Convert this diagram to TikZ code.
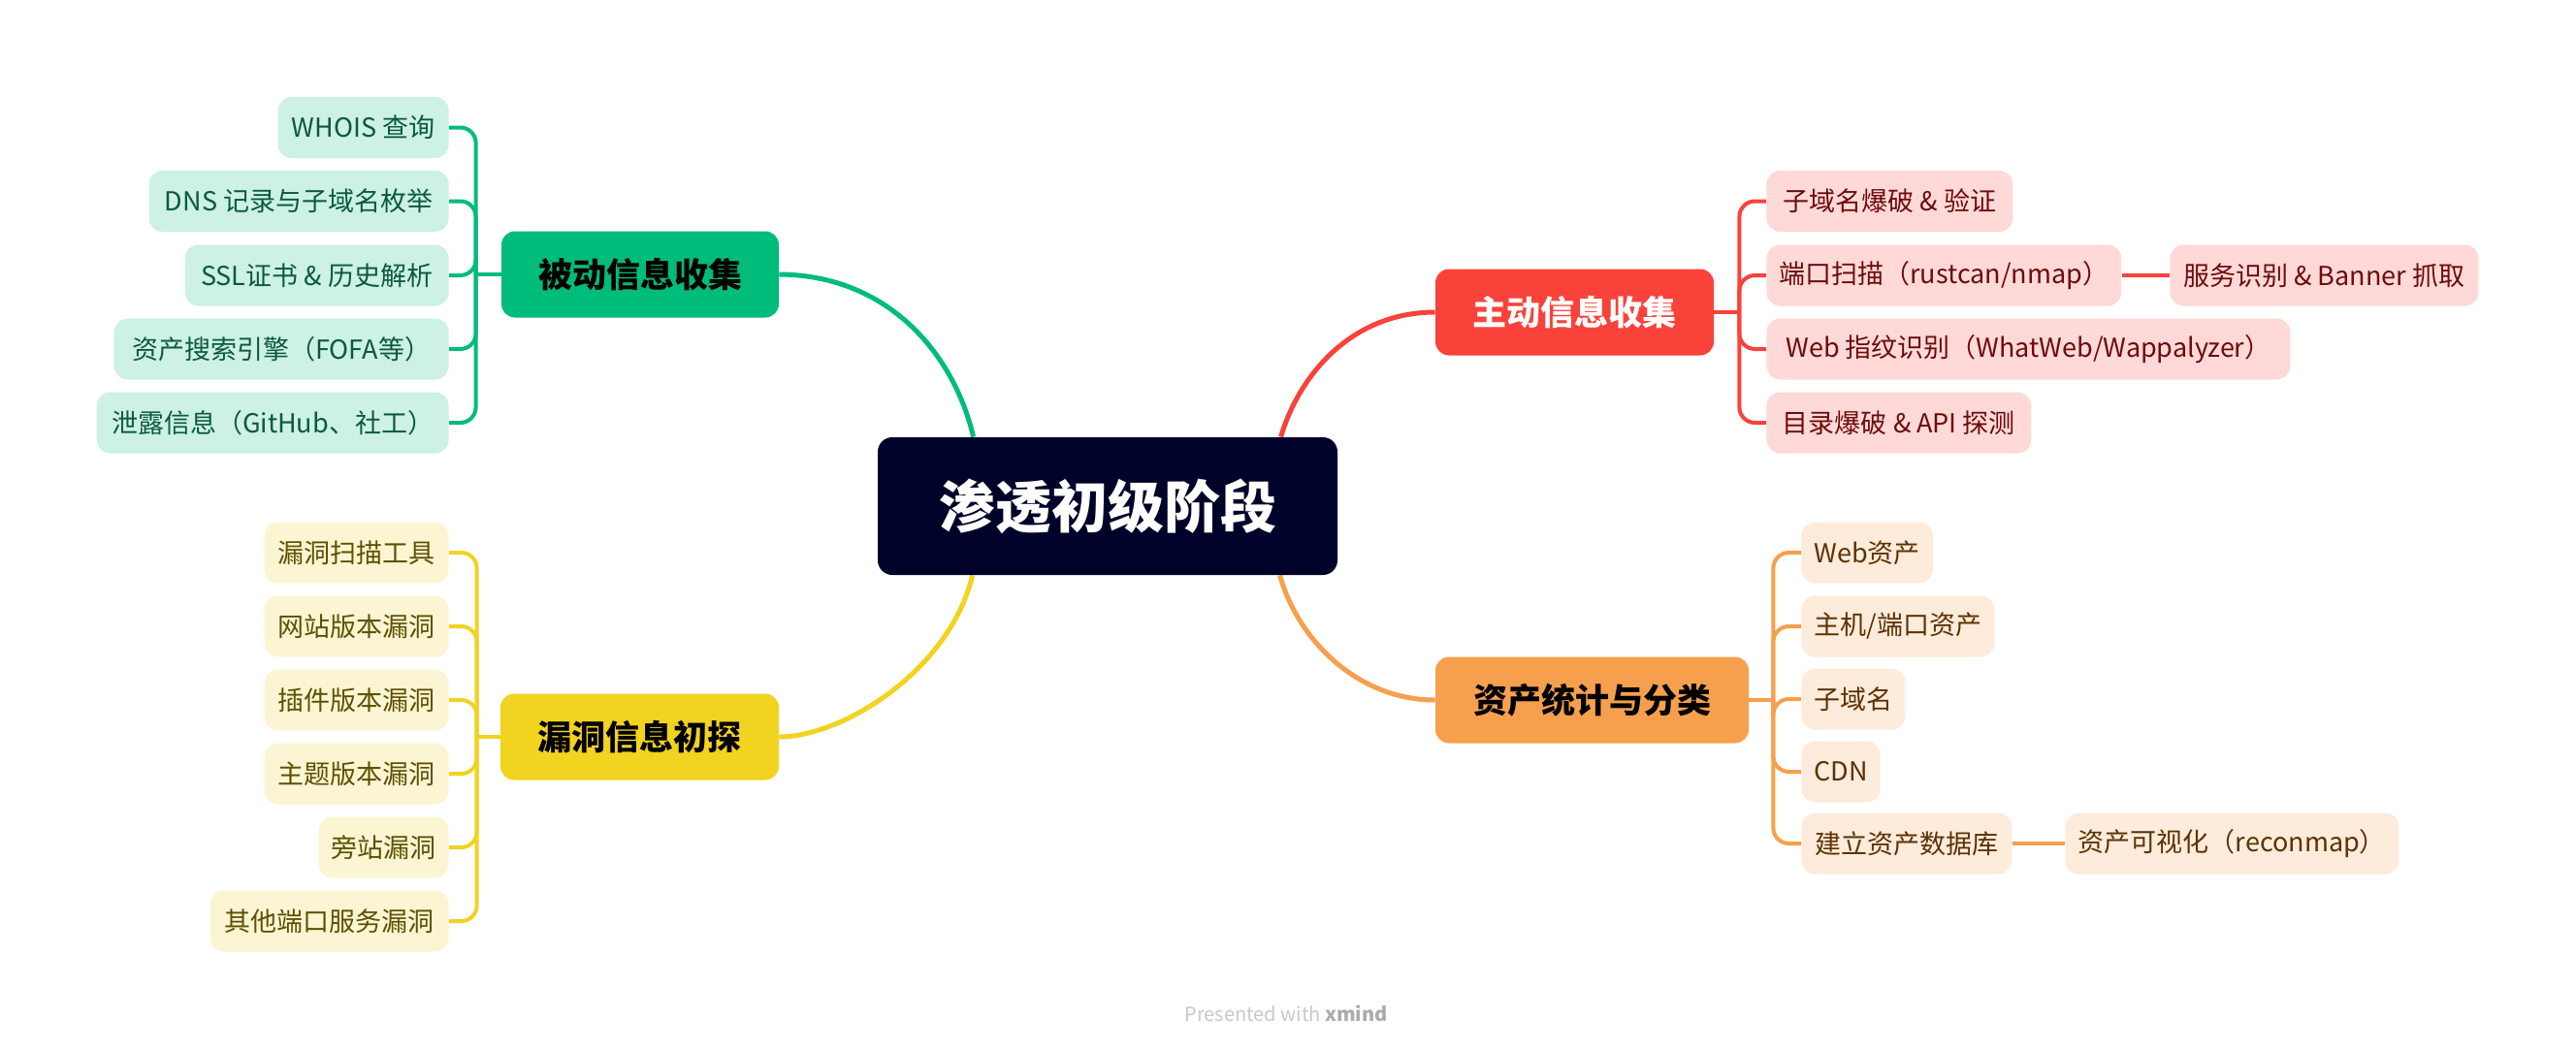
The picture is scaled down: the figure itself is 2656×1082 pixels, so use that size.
\documentclass[tikz,border=0pt]{standalone}
\usepackage{fontspec}
\setmainfont{Noto Sans CJK SC}
\usetikzlibrary{backgrounds,calc}
\definecolor{cnavy}{HTML}{000229}
\definecolor{cgreen}{HTML}{00BC7B}
\definecolor{cgreenl}{HTML}{CDF1E3}
\definecolor{cgreent}{HTML}{0A5A3C}
\definecolor{cred}{HTML}{F9423A}
\definecolor{credl}{HTML}{FED9D7}
\definecolor{credt}{HTML}{6E0B0B}
\definecolor{cyel}{HTML}{F1D320}
\definecolor{cyell}{HTML}{FCF5D3}
\definecolor{cyelt}{HTML}{5E5000}
\definecolor{corg}{HTML}{F6A04D}
\definecolor{corgl}{HTML}{FDEBDC}
\definecolor{corgt}{HTML}{5E3200}
\definecolor{cgrayA}{HTML}{C8C8C8}
\definecolor{cgrayB}{HTML}{ABABAB}
\begin{document}
\begin{tikzpicture}[x=0.5pt,y=-0.5pt,
  leaf/.style={rounded corners=7pt, minimum height=31.5pt, inner xsep=6.5pt, inner ysep=0pt,
    font=\fontsize{13.5}{16}\selectfont},
  gleaf/.style={leaf, fill=cgreenl, text=cgreent, anchor=east},
  rleaf/.style={leaf, fill=credl, text=credt, anchor=west},
  yleaf/.style={leaf, fill=cyell, text=cyelt, anchor=east},
  oleaf/.style={leaf, fill=corgl, text=corgt, anchor=west},
  mainbox/.style={rounded corners=7pt, inner sep=0pt, minimum height=44.5pt,
    font=\fontsize{17.5}{20}\selectfont\bfseries},
  conn/.style={line width=2pt, rounded corners=8pt},
  trunk/.style={line width=2.5pt},
]
\useasboundingbox (0,0) rectangle (2656,1082);

% central
\node[fill=cnavy, text=white, rounded corners=7.5pt, minimum width=237pt, minimum height=71pt,
  inner sep=0pt, font=\fontsize{29}{32}\selectfont\bfseries] (c) at (1142,522) {渗透初级阶段};

% main topics
\node[mainbox, fill=cgreen, text=black, minimum width=143pt] (gm) at (660,283) {被动信息收集};
\node[mainbox, fill=cred, text=white, minimum width=143.5pt] (rm) at (1623.5,322) {主动信息收集};
\node[mainbox, fill=cyel, text=black, minimum width=143.5pt] (ym) at (659.5,760) {漏洞信息初探};
\node[mainbox, fill=corg, text=black, minimum width=161.5pt] (om) at (1641.5,722) {资产统计与分类};

% green leaves
\node[gleaf, minimum width=88pt] (g1) at (463,131.5) {WHOIS 查询};
\node[gleaf, minimum width=154.5pt] (g2) at (463,207.5) {DNS 记录与子域名枚举};
\node[gleaf, minimum width=136pt] (g3) at (463,284) {SSL证书 \& 历史解析};
\node[gleaf, minimum width=172.5pt] (g4) at (463,360) {资产搜索引擎（FOFA等）};
\node[gleaf, minimum width=181.5pt] (g5) at (463,436) {泄露信息（GitHub、社工）};

% red leaves
\node[rleaf, minimum width=127pt] (r1) at (1821,207.5) {子域名爆破 \& 验证};
\node[rleaf, minimum width=180pt] (r2) at (1821,284) {端口扫描（rustcan/nmap）};
\node[rleaf, minimum width=159pt] (r2b) at (2237,284) {服务识别 \& Banner 抓取};
\node[rleaf, minimum width=270pt] (r3) at (1821,360) {Web 指纹识别（WhatWeb/Wappalyzer）};
\node[rleaf, minimum width=136.5pt] (r4) at (1821,436) {目录爆破 \& API 探测};

% yellow leaves
\node[yleaf, minimum width=95pt] (y1) at (463,570) {漏洞扫描工具};
\node[yleaf, minimum width=95pt] (y2) at (463,646) {网站版本漏洞};
\node[yleaf, minimum width=95pt] (y3) at (463,722) {插件版本漏洞};
\node[yleaf, minimum width=95pt] (y4) at (463,798) {主题版本漏洞};
\node[yleaf, minimum width=67pt] (y5) at (463,874) {旁站漏洞};
\node[yleaf, minimum width=123pt] (y6) at (463,950) {其他端口服务漏洞};

% orange leaves
\node[oleaf, minimum width=67.5pt] (o1) at (1857,570) {Web资产};
\node[oleaf, minimum width=99.5pt] (o2) at (1857,646) {主机/端口资产};
\node[oleaf, minimum width=52.5pt] (o3) at (1857,721) {子域名};
\node[oleaf, minimum width=40pt] (o4) at (1857,796) {CDN};
\node[oleaf, minimum width=108.5pt] (o5) at (1857,870) {建立资产数据库};
\node[oleaf, minimum width=172pt] (o5b) at (2129,870) {资产可视化（reconmap）};

% footer
\node[font=\fontsize{10}{12}\selectfont, text=cgrayA, inner sep=0pt] (ft) at (1326,1045)
  {Presented with \textcolor{cgrayB}{\bfseries xmind}};

\begin{scope}[on background layer]
  % trunks
  \draw[trunk, cgreen] ([xshift=49.5pt]c.north west) .. controls (985,370) and (920,284) .. (gm.east);
  \draw[trunk, cred] ([xshift=208pt]c.north west) .. controls (1340,385) and (1395,322) .. (rm.west);
  \draw[trunk, cyel] ([xshift=49pt]c.south west) .. controls (980,690) and (870,760) .. (ym.east);
  \draw[trunk, corg] ([xshift=207.5pt]c.south west) .. controls (1338,660) and (1400,722) .. (om.west);

  % bracket points
  \coordinate (gb) at ($(gm.west)+(-26,0)$);
  \coordinate (rb) at ($(rm.east)+(26,0)$);
  \coordinate (yb) at ($(ym.west)+(-24,0)$);
  \coordinate (ob) at ($(om.east)+(25,0)$);

  % green
  \draw[conn, cgreen] (gm.west) -- (gb);
  \foreach \n in {g1,g2,g3,g4,g5} \draw[conn, cgreen] (gb) |- (\n.east);
  % red
  \draw[conn, cred] (rm.east) -- (rb);
  \foreach \n in {r1,r2,r3,r4} \draw[conn, cred] (rb) |- (\n.west);
  \draw[conn, cred] (r2.east) -- (r2b.west);
  % yellow
  \draw[conn, cyel] (ym.west) -- (yb);
  \foreach \n in {y1,y2,y3,y4,y5,y6} \draw[conn, cyel] (yb) |- (\n.east);
  % orange
  \draw[conn, corg] (om.east) -- (ob);
  \foreach \n in {o1,o2,o3,o4,o5} \draw[conn, corg] (ob) |- (\n.west);
  \draw[conn, corg] (o5.east) -- (o5b.west);
\end{scope}
\end{tikzpicture}
\end{document}
